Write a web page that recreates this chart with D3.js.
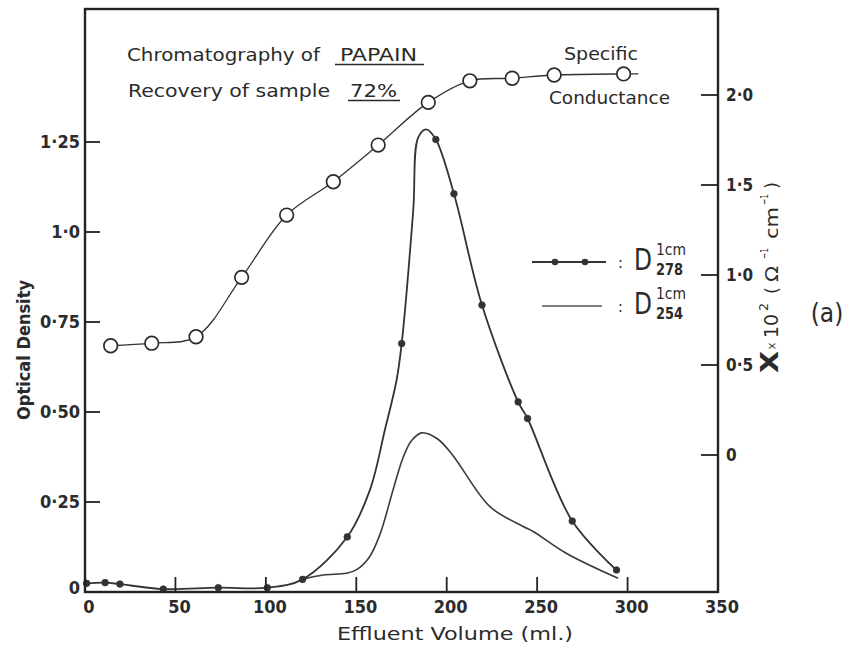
<!DOCTYPE html>
<html>
<head>
<meta charset="utf-8">
<script src="https://cdnjs.cloudflare.com/ajax/libs/d3/7.8.5/d3.min.js"></script>
<style>
  html, body { margin: 0; padding: 0; background: #fff; }
  svg { display: block; }
  text { font-family: "DejaVu Sans Condensed", "DejaVu Sans", sans-serif; fill: #2b2b2b; }
</style>
</head>
<body>
<div id="chart"></div>
<script>
// ---------------- data ----------------
const xTickValues = [0, 50, 100, 150, 200, 250, 300, 350];
const xTickLabels = ["0", "50", "100", "150", "200", "250", "300", "350"];
const leftTickValues = [0, 0.25, 0.5, 0.75, 1.0, 1.25];
const leftTickLabels = ["0", "0·25", "0·50", "0·75", "1·0", "1·25"];
const rightTickValues = [0, 0.5, 1.0, 1.5, 2.0];
const rightTickLabels = ["0", "0·5", "1·0", "1·5", "2·0"];

// Specific conductance (open circles, right axis, x10^2 ohm^-1 cm^-1)
const condVolume = [14.2, 36.9, 61.4, 86.6, 111.5, 137.3, 162.1, 189.8, 212.8, 236.2, 259.4, 297.8];
const condValue  = [0.607, 0.621, 0.657, 0.987, 1.333, 1.518, 1.722, 1.959, 2.079, 2.093, 2.111, 2.117];
const condTailVolume = 306;   // line drawn slightly beyond the last circle

// D278 (measured points, filled dots)
const d278Volume = [0.9, 11.1, 19.3, 43.3, 73.7, 100.8, 120.3, 145.0, 175.1, 194.0, 204.0, 219.5, 239.5, 244.7, 269.4, 293.9];
const d278OD     = [0.024, 0.026, 0.022, 0.008, 0.012, 0.012, 0.035, 0.153, 0.690, 1.257, 1.106, 0.797, 0.528, 0.482, 0.197, 0.061];
// additional points (no markers)
const d278CurveVolume = [157.5, 165.8, 172.3, 181.5, 184.2, 188.7];
const d278CurveOD     = [0.283, 0.450, 0.589, 1.061, 1.262, 1.285];

// D254 (continuous line, no markers)
const d254Volume = [120.3, 131.6, 144.7, 150.2, 157.0, 163.1, 170.4, 176.0, 180.5, 186.1, 195.0, 203.6, 223.9, 242.3, 247.8, 266.3, 294.8];
const d254OD     = [0.035, 0.047, 0.052, 0.062, 0.095, 0.160, 0.285, 0.375, 0.420, 0.442, 0.425, 0.378, 0.237, 0.182, 0.168, 0.107, 0.038];

// ---------------- layout ----------------
const W = 849, H = 649;
const L = 85, R = 718, T = 9, B = 592;
const ink = "#2b2b2b";

const svg = d3.select("#chart").append("svg").attr("width", W).attr("height", H);
svg.append("rect").attr("width", W).attr("height", H).attr("fill", "#fff");

const x = d3.scaleLinear().domain([0, 350]).range([L, R]);
const yL = d3.scaleLinear().domain([0, 1.25]).range([B, 142]);
const yR = d3.scaleLinear().domain([0, 2]).range([455, 95]);

// ---------------- curves ----------------
const lineL = d3.line().x(d => x(d[0])).y(d => yL(d[1])).curve(d3.curveCatmullRom.alpha(0.5));
const lineR = d3.line().x(d => x(d[0])).y(d => yR(d[1])).curve(d3.curveCatmullRom.alpha(0.5));

const d254Pts = d254Volume.map((v, i) => [v, d254OD[i]]);
svg.append("path").attr("d", lineL(d254Pts)).attr("fill", "none")
  .attr("stroke", "#3a3a3a").attr("stroke-width", 1.6);

const d278Pts = d278Volume.map((v, i) => [v, d278OD[i]])
  .concat(d278CurveVolume.map((v, i) => [v, d278CurveOD[i]]))
  .sort((a, b) => a[0] - b[0]);
svg.append("path").attr("d", lineL(d278Pts)).attr("fill", "none")
  .attr("stroke", "#333").attr("stroke-width", 1.8);

svg.selectAll("circle.d278").data(d278Volume).enter().append("circle")
  .attr("class", "d278")
  .attr("cx", (v) => x(v)).attr("cy", (v, i) => yL(d278OD[i])).attr("r", 3.3)
  .attr("fill", "#333").attr("stroke", "#333").attr("stroke-width", 0.8);

const condPts = condVolume.map((v, i) => [v, condValue[i]]);
condPts.push([condTailVolume, condValue[condValue.length - 1]]);
svg.append("path").attr("d", lineR(condPts)).attr("fill", "none")
  .attr("stroke", "#333").attr("stroke-width", 1.3);
svg.selectAll("circle.cond").data(condVolume).enter().append("circle")
  .attr("class", "cond")
  .attr("cx", v => x(v)).attr("cy", (v, i) => yR(condValue[i])).attr("r", 6.8)
  .attr("fill", "#fff").attr("stroke", "#2b2b2b").attr("stroke-width", 1.7);

// ---------------- frame & axes ----------------
svg.append("rect").attr("x", L).attr("y", T).attr("width", R - L).attr("height", B - T)
  .attr("fill", "none").attr("stroke", "#222").attr("stroke-width", 2.4);

// bottom ticks (inside, upward)
const xInner = xTickValues.filter(v => v > 0 && v < 350);
svg.selectAll("line.xt").data(xInner).enter().append("line")
  .attr("x1", v => x(v)).attr("x2", v => x(v)).attr("y1", B).attr("y2", B - 15)
  .attr("stroke", "#222").attr("stroke-width", 1.8);
svg.selectAll("text.xl").data(xTickValues).enter().append("text")
  .attr("x", v => x(v) + 4).attr("y", 613).attr("text-anchor", "middle")
  .attr("font-size", 18).attr("font-weight", 600).text((v, i) => xTickLabels[i]);

// left ticks (inside, rightward)
svg.selectAll("line.lt").data(leftTickValues.filter(v => v > 0)).enter().append("line")
  .attr("x1", L).attr("x2", L + 15).attr("y1", v => yL(v)).attr("y2", v => yL(v))
  .attr("stroke", "#222").attr("stroke-width", 1.8);
svg.selectAll("text.ll").data(leftTickValues).enter().append("text")
  .attr("x", 80).attr("y", v => yL(v) + (v === 0 ? 2 : 6)).attr("text-anchor", "end")
  .attr("font-size", 18).attr("font-weight", "bold").text((v, i) => leftTickLabels[i]);

// right ticks (inside, leftward)
svg.selectAll("line.rt").data(rightTickValues).enter().append("line")
  .attr("x1", R - 17).attr("x2", R).attr("y1", v => yR(v)).attr("y2", v => yR(v))
  .attr("stroke", "#222").attr("stroke-width", 1.8);
svg.selectAll("text.rl").data(rightTickValues).enter().append("text")
  .attr("x", 726).attr("y", v => yR(v) + 6).attr("text-anchor", "start")
  .attr("font-size", 17).attr("font-weight", "bold").text((v, i) => rightTickLabels[i]);

// ---------------- titles ----------------
svg.append("text").attr("x", 455).attr("y", 640).attr("text-anchor", "middle")
  .attr("font-size", 17).attr("textLength", 236).attr("lengthAdjust", "spacingAndGlyphs")
  .text("Effluent Volume (ml.)");

svg.append("text").attr("transform", "translate(30,350) rotate(-90)").attr("text-anchor", "middle")
  .attr("font-size", 17).attr("font-weight", "bold")
  .attr("textLength", 140).attr("lengthAdjust", "spacingAndGlyphs")
  .text("Optical Density");

// right axis title (rotated, reads bottom to top)
const rg = svg.append("g").attr("transform", "translate(778,0) rotate(-90)");
function rpart(txt, u, v, size, len, fill, weight) {
  const t = rg.append("text").attr("x", -u).attr("y", v).attr("font-size", size)
    .attr("fill", fill).text(txt);
  if (len) t.attr("textLength", len).attr("lengthAdjust", "spacingAndGlyphs");
  if (weight) t.attr("font-weight", weight);
}
rpart("X", 373, 0, 25, 22, "#222", "bold");
rpart("×", 350, -2, 13, 8, "#666");
rpart("10", 338, 0, 19, 24, "#444");
rpart("2", 311, -10, 13, 8, "#444");
rpart("(", 294, 0, 18, 7, "#999");
rpart("Ω", 282, 0, 18, 16, "#999");
rpart("−1", 259, -10, 11, 11, "#999");
rpart("cm", 239, 0, 18, 32, "#999");
rpart("−1", 205, -10, 11, 11, "#999");
rpart(")", 189, 0, 18, 7, "#999");

svg.append("text").attr("x", 827).attr("y", 322).attr("text-anchor", "middle")
  .attr("font-size", 26).text("(a)");

// ---------------- annotations ----------------
function label(txt, x0, y0, len, size) {
  return svg.append("text").attr("x", x0).attr("y", y0).attr("font-size", size || 18)
    .attr("textLength", len).attr("lengthAdjust", "spacingAndGlyphs").text(txt);
}
label("Chromatography  of", 127, 61, 193);
label("PAPAIN", 340, 61, 77);
svg.append("line").attr("x1", 335).attr("x2", 424).attr("y1", 64.5).attr("y2", 64.5)
  .attr("stroke", ink).attr("stroke-width", 1.6);
label("Recovery  of  sample", 128, 97, 202);
label("72%", 350, 97, 47);
svg.append("line").attr("x1", 348).attr("x2", 400).attr("y1", 100.5).attr("y2", 100.5)
  .attr("stroke", ink).attr("stroke-width", 1.6);
label("Specific", 564, 60, 74);
label("Conductance", 549, 104, 121);

// ---------------- legend ----------------
svg.append("line").attr("x1", 532).attr("x2", 606).attr("y1", 262).attr("y2", 262)
  .attr("stroke", "#333").attr("stroke-width", 2);
svg.selectAll("circle.leg").data([555, 585]).enter().append("circle")
  .attr("cx", d => d).attr("cy", 262).attr("r", 3.3).attr("fill", "#333");
svg.append("line").attr("x1", 542).attr("x2", 602).attr("y1", 306).attr("y2", 306)
  .attr("stroke", "#555").attr("stroke-width", 1.6);

function legendLabel(y0, sub) {
  svg.append("text").attr("x", 618).attr("y", y0 - 2).attr("font-size", 16).attr("fill", "#aaa").text(":");
  svg.append("text").attr("x", 634).attr("y", y0).attr("font-size", 31)
    .attr("textLength", 18).attr("lengthAdjust", "spacingAndGlyphs").text("D");
  svg.append("text").attr("x", 656).attr("y", y0 - 15).attr("font-size", 15)
    .attr("textLength", 30).attr("lengthAdjust", "spacingAndGlyphs").text("1cm");
  svg.append("text").attr("x", 656).attr("y", y0 + 5).attr("font-size", 15).attr("font-weight", "bold")
    .attr("textLength", 27).attr("lengthAdjust", "spacingAndGlyphs").text(sub);
}
legendLabel(270, "278");
legendLabel(314, "254");
</script>
</body>
</html>
